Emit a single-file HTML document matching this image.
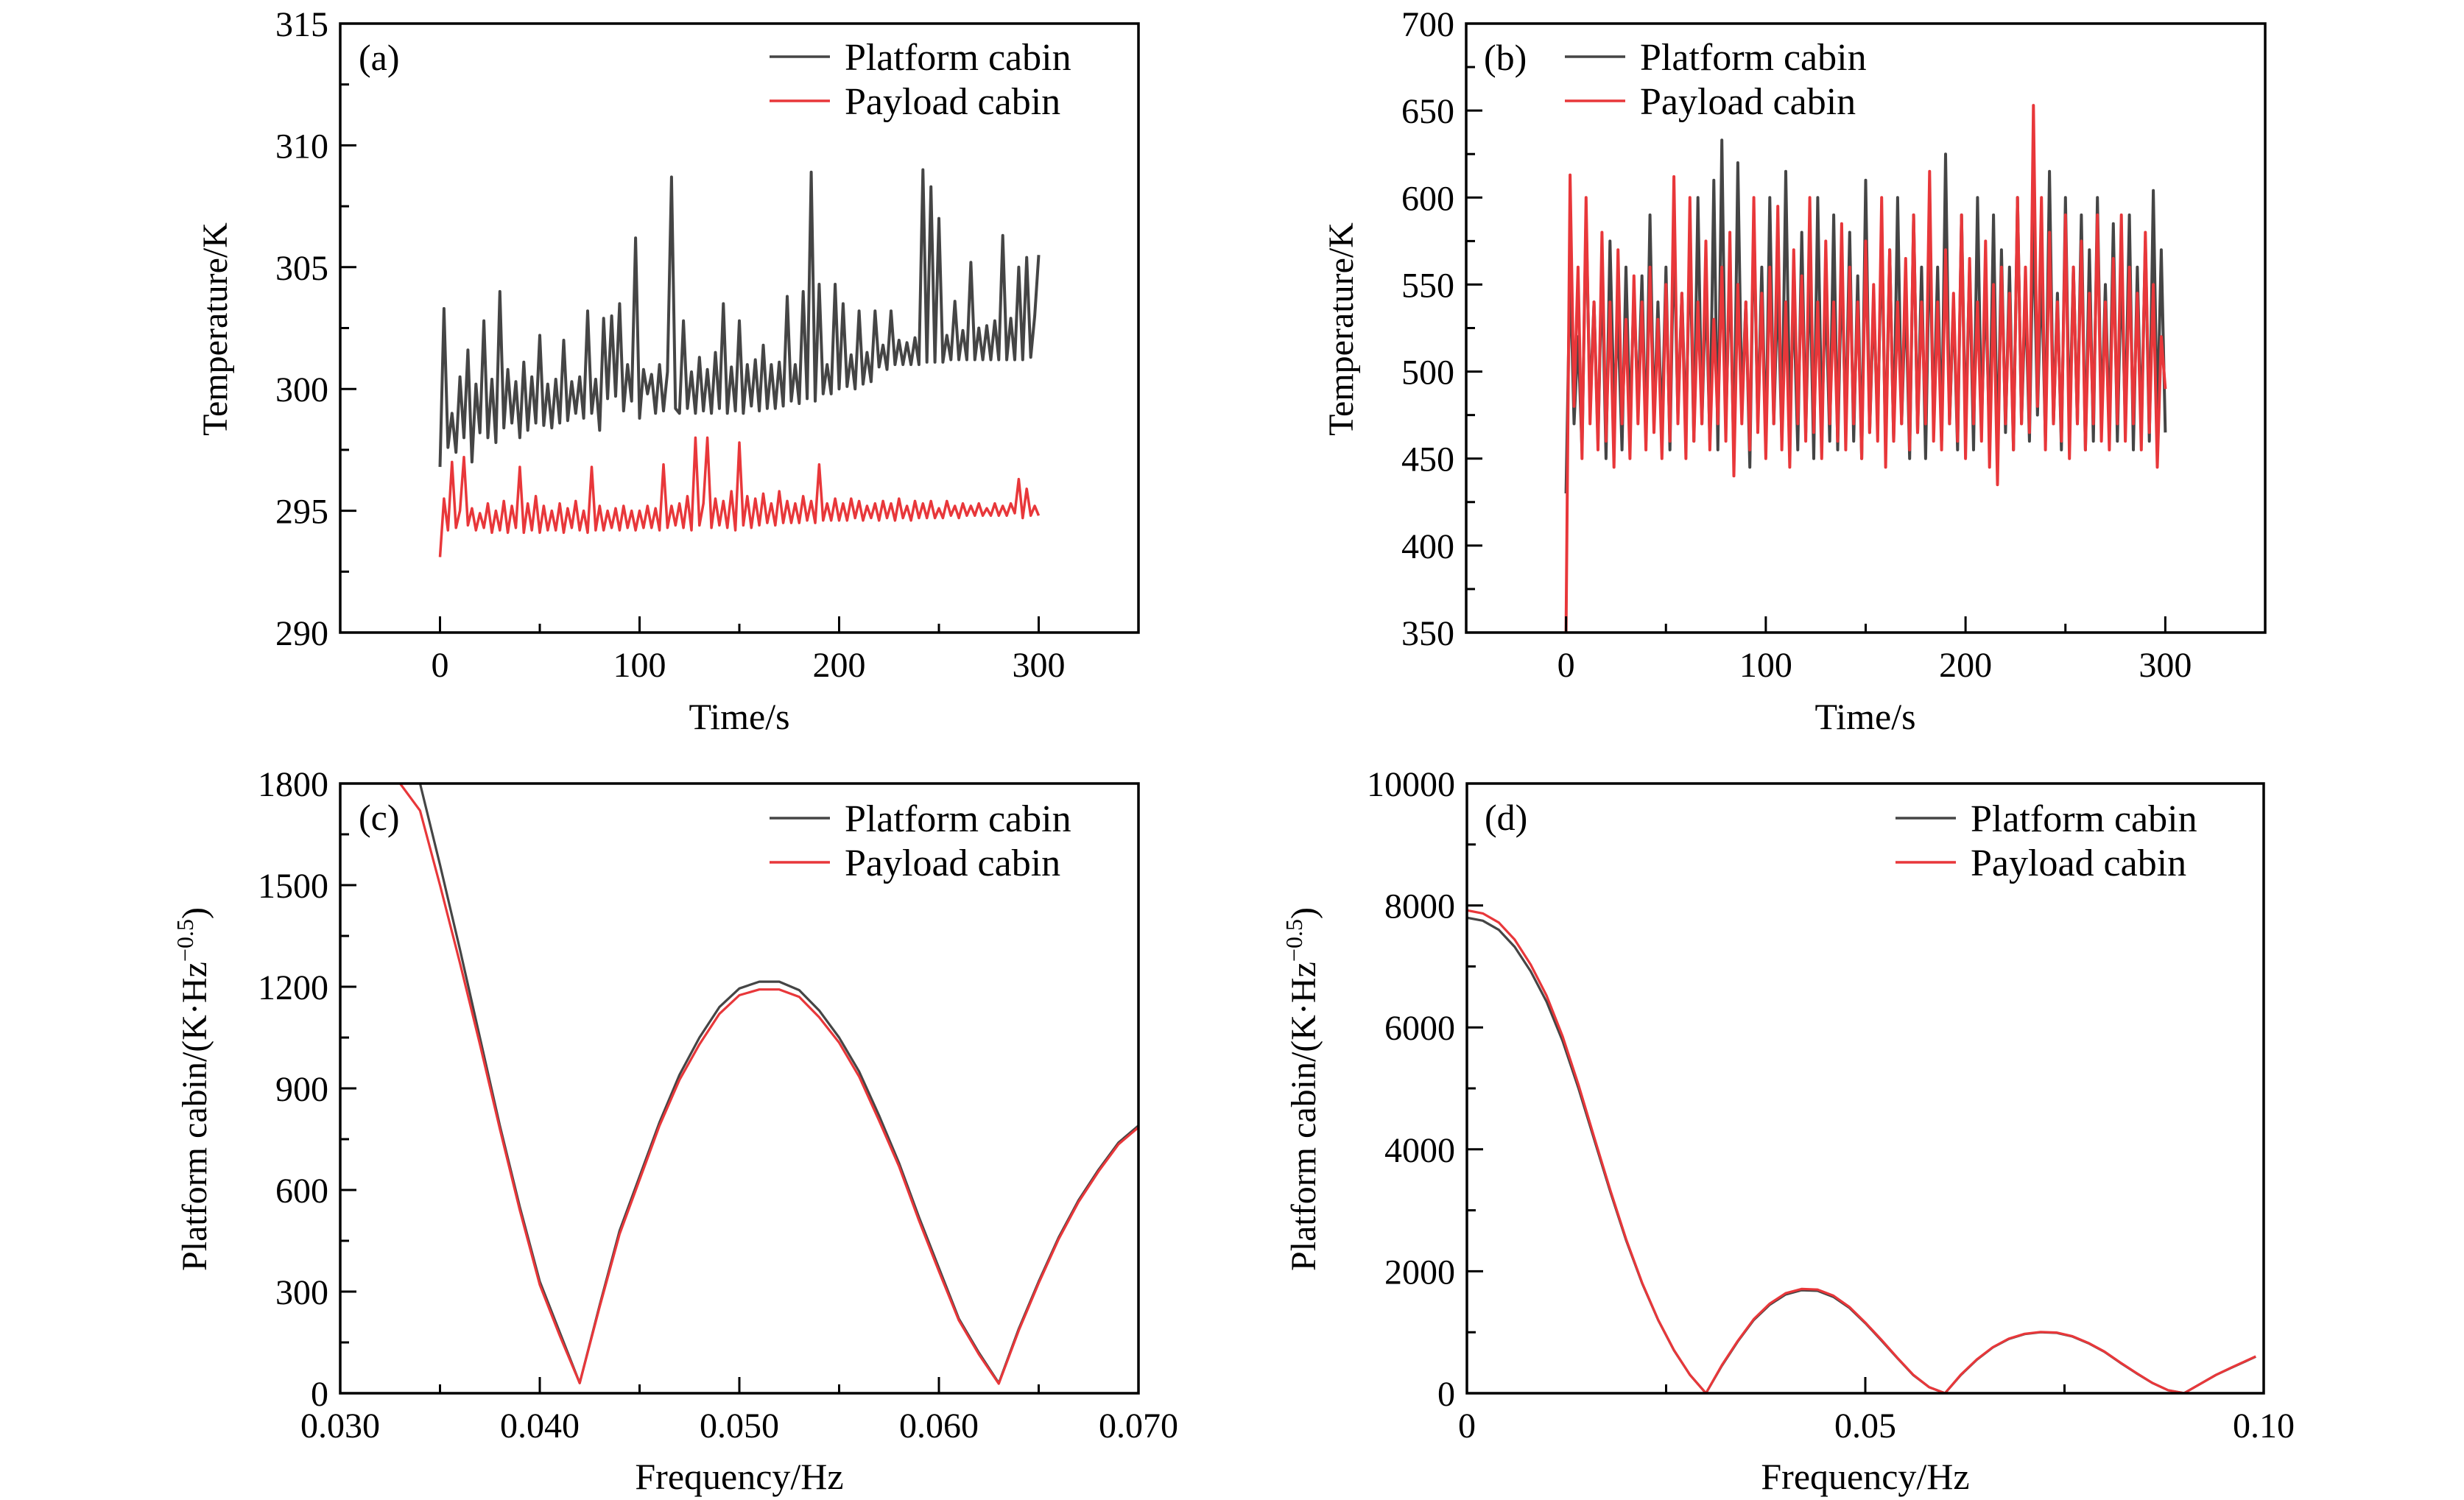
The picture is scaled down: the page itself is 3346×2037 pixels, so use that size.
<!DOCTYPE html>
<html><head><meta charset="utf-8"><style>
html,body{margin:0;padding:0;background:#fff}
svg{display:block}
text{font-family:"Liberation Serif",serif;fill:#000}
</style></head><body>
<svg id="fig" width="3346" height="2037" viewBox="0 0 3346 2037" xmlns="http://www.w3.org/2000/svg"></svg>
<script>
// ---------- DATA ----------
const timeStart = 0, timeStep = 2;
const aPlatform = [
296.8,303.3,297.6,299.0,297.4,300.5,298.0,301.6,297.0,300.2,
298.2,302.8,298.0,300.4,297.8,304.0,298.4,300.8,298.6,300.3,
298.0,301.1,298.3,300.5,298.6,302.2,298.5,300.2,298.4,300.4,
298.6,302.0,298.7,300.3,299.0,300.5,298.8,303.2,299.0,300.4,
298.3,302.9,299.6,303.0,299.7,303.5,299.1,301.0,299.5,306.2,
298.8,300.8,299.8,300.6,299.0,301.0,299.1,300.7,308.7,299.2,
299.0,302.8,299.2,300.7,299.0,301.3,299.1,300.8,299.0,301.5,
299.2,303.5,299.0,300.9,299.1,302.8,299.0,301.0,299.3,301.2,
299.1,301.8,299.2,301.0,299.2,301.1,299.3,303.8,299.5,301.0,
299.4,304.0,299.6,308.9,299.5,304.3,299.8,301.0,299.8,304.3,
300.0,303.5,300.1,301.4,300.0,303.2,300.2,301.5,300.3,303.2,
300.9,301.8,300.8,303.2,301.0,302.0,301.0,301.9,301.0,302.1,
301.0,309.0,301.1,308.3,301.1,307.0,301.1,302.2,301.2,303.6,
301.2,302.4,301.2,305.2,301.2,302.5,301.2,302.6,301.2,302.8,
301.2,306.3,301.2,302.9,301.2,305.0,301.2,305.4,301.3,303.0,
305.5];
const aPayload = [
293.1,295.5,294.2,297.0,294.3,295.0,297.2,294.4,295.1,294.2,
294.9,294.3,295.3,294.1,295.0,294.2,295.4,294.1,295.2,294.3,
296.8,294.1,295.3,294.2,295.6,294.1,295.2,294.2,295.0,294.2,
295.3,294.1,295.1,294.3,295.4,294.2,295.0,294.1,296.8,294.2,
295.2,294.2,295.0,294.3,295.1,294.2,295.2,294.3,295.0,294.2,
295.0,294.3,295.2,294.3,295.1,294.2,296.9,294.3,295.2,294.4,
295.3,294.3,295.6,294.2,298.0,294.4,295.3,298.0,294.3,295.5,
294.4,295.4,294.3,295.8,294.2,297.8,294.4,295.6,294.3,295.5,
294.4,295.7,294.5,295.3,294.4,295.8,294.5,295.4,294.5,295.3,
294.5,295.6,294.6,295.4,294.5,296.9,294.6,295.3,294.6,295.5,
294.6,295.3,294.6,295.5,294.7,295.4,294.6,295.2,294.7,295.3,
294.6,295.4,294.7,295.3,294.6,295.5,294.7,295.2,294.6,295.4,
294.7,295.3,294.7,295.4,294.7,295.1,294.7,295.4,294.8,295.2,
294.7,295.3,294.8,295.2,294.8,295.3,294.8,295.1,294.8,295.3,
294.8,295.2,294.8,295.3,294.9,296.3,294.7,295.9,294.8,295.2,
294.8];
const bPlatform = [
430,560,470,520,455,590,480,540,460,560,
450,575,480,530,455,560,470,545,480,555,
460,590,470,540,465,560,455,580,475,545,
465,575,460,600,470,550,460,610,455,633,
470,560,450,620,480,540,445,590,470,560,
455,600,470,550,460,615,475,540,455,580,
465,560,450,600,470,545,460,590,455,560,
470,580,460,555,450,610,465,540,470,580,
455,570,460,600,470,545,450,590,465,560,
450,580,470,560,460,625,470,540,455,590,
465,560,455,600,470,550,460,590,450,570,
465,560,455,600,470,545,460,590,475,560,
460,615,470,545,455,600,465,560,470,590,
455,570,460,600,470,550,465,585,460,560,
470,590,455,560,465,575,460,604,470,570,
465];
const bPayload = [
350,613,480,560,450,600,470,540,455,580,
460,540,445,570,470,530,450,555,470,540,
455,560,465,530,450,550,460,612,470,545,
450,600,460,540,470,575,455,530,470,560,
460,580,440,550,470,540,455,600,465,545,
450,560,470,595,455,540,445,570,470,555,
460,600,465,540,450,575,470,540,460,585,
455,560,470,540,450,575,465,550,460,600,
445,570,460,540,470,565,455,590,465,540,
470,615,460,540,455,570,470,545,460,590,
450,565,470,540,460,575,445,550,435,560,
470,545,455,600,470,560,465,653,480,600,
455,580,470,540,460,590,450,560,470,575,
455,545,470,590,460,540,455,565,470,590,
460,560,470,545,455,580,465,550,445,520,
490];
const cFreq = [0.033,0.034,0.035,0.036,0.037,0.038,0.039,0.040,0.041,0.042,0.043,0.044,0.045,0.046,0.047,0.048,0.049,0.050,0.051,0.052,0.053,0.054,0.055,0.056,0.057,0.058,0.059,0.060,0.061,0.062,0.063,0.064,0.065,0.066,0.067,0.068,0.069,0.070];
const cPlatform = [1880,1800,1560,1310,1050,790,550,330,180,30,260,480,640,800,940,1050,1140,1195,1215,1215,1190,1130,1050,950,820,680,520,370,220,120,30,190,330,460,570,660,740,790];
const cPayload  = [1800,1720,1500,1270,1030,780,540,320,170,30,255,470,630,790,925,1030,1120,1175,1192,1192,1170,1110,1035,935,805,670,510,360,215,115,28,185,325,455,565,655,735,785];
const dFreq = [0,0.002,0.004,0.006,0.008,0.010,0.012,0.014,0.016,0.018,0.020,0.022,0.024,0.026,0.028,0.030,0.032,0.034,0.036,0.038,0.040,0.042,0.044,0.046,0.048,0.050,0.052,0.054,0.056,0.058,0.060,0.062,0.064,0.066,0.068,0.070,0.072,0.074,0.076,0.078,0.080,0.082,0.084,0.086,0.088,0.090,0.092,0.094,0.096,0.098,0.099];
const dPlatform = [7800,7750,7600,7320,6920,6420,5780,5000,4150,3300,2500,1800,1200,700,300,0,450,850,1200,1450,1620,1690,1680,1580,1400,1150,870,580,300,100,0,300,550,750,890,970,1000,990,930,820,680,500,330,170,50,0,150,300,420,540,600];
const dPayload  = [7920,7870,7720,7440,7030,6520,5860,5060,4190,3330,2520,1810,1205,705,300,0,460,860,1215,1470,1640,1710,1700,1600,1415,1160,880,585,305,100,0,305,555,755,895,975,1005,995,935,825,685,505,335,172,50,0,150,300,425,545,605];

// ---------- DRAW ----------
const NS = "http://www.w3.org/2000/svg";
const svg = document.getElementById("fig");
function mk(tag, attrs, parent){const e=document.createElementNS(NS,tag);for(const k in attrs)e.setAttribute(k,attrs[k]);(parent||svg).appendChild(e);return e;}
const BLK="#454545", RED="#e8373a";

function panel(id, box, xr, yr, xMaj, xMin, yMaj, yMin, xfmt, yfmt){
  const g = mk("g",{});
  
  
  const sx = v => box.x0 + (v - xr[0]) / (xr[1]-xr[0]) * (box.x1-box.x0);
  const sy = v => box.y1 - (v - yr[0]) / (yr[1]-yr[0]) * (box.y1-box.y0);
  const clip = mk("clipPath",{id:"clip-"+id},g);
  mk("rect",{x:box.x0,y:box.y0,width:box.x1-box.x0,height:box.y1-box.y0},clip);
  const plot = mk("g",{"clip-path":"url(#clip-"+id+")"},g);
  const tk = mk("g",{stroke:"#000","stroke-width":3},g);
  for(let v=xr[0]; v<=xr[1]+1e-9; v+=xMin){ const r=Math.round(v/xMin); if(Math.abs(v/xMin-r)>1e-6) continue;
    const isMaj = Math.abs(v/xMaj-Math.round(v/xMaj))<1e-6; const x=sx(v);
    if(x<=box.x0+2||x>=box.x1-2) continue;
    const t=mk("line",{x1:x,x2:x,y1:box.y1,y2:box.y1-(isMaj?22:12)},tk);
    
    
  }
  for(let v=yr[0]; v<=yr[1]+1e-9; v+=yMin){
    const isMaj = Math.abs((v-yr[0])/yMaj-Math.round((v-yr[0])/yMaj))<1e-6; const y=sy(v);
    if(y<=box.y0+2||y>=box.y1-2) continue;
    const t=mk("line",{x1:box.x0,x2:box.x0+(isMaj?22:12),y1:y,y2:y},tk);
    
    
  }
  xfmt.forEach(([v,s])=>{const t=mk("text",{x:sx(v),y:box.y1+60,"font-size":48,"text-anchor":"middle"},g);t.textContent=s;
    
    });
  yfmt.forEach(([v,s])=>{const t=mk("text",{x:box.x0-16,y:sy(v)+17,"font-size":48,"text-anchor":"end"},g);t.textContent=s;
    
    });
  const frame = mk("rect",{x:box.x0,y:box.y0,width:box.x1-box.x0,height:box.y1-box.y0,fill:"none",stroke:"#000","stroke-width":3.5},g);
  
  
  return {g,plot,sx,sy};
}
function series(P, xs, ys, color, w, name){
  const d = ys.map((v,i)=>(i?"L":"M")+P.sx(xs[i]).toFixed(1)+","+P.sy(v).toFixed(1)).join("");
  const p = mk("path",{d, fill:"none", stroke:color, "stroke-width":w, "stroke-linejoin":"round"}, P.plot);
  
  
}
function legend(lx, tx, y1, y2, tag, tagx, tagy){
  [[y1,BLK,"Platform cabin"],[y2,RED,"Payload cabin"]].forEach(([y,c,s],i)=>{
    const l=mk("line",{x1:lx,x2:lx+82,y1:y,y2:y,stroke:c,"stroke-width":3.5});
    
    
    const t=mk("text",{x:tx,y:y+18,"font-size":52});t.textContent=s;
    
    
  });
  const t=mk("text",{x:tagx,y:tagy,"font-size":50});t.textContent=tag;
  
  
}
function ytitle(x, cy, content){
  const t=mk("text",{x:x,y:cy,"font-size":48,"text-anchor":"middle",transform:`rotate(-90 ${x} ${cy})`});
  t.innerHTML=content;
  
  
}
function xtitle(cx, y, s){
  const t=mk("text",{x:cx,y:y,"font-size":50,"text-anchor":"middle"});t.textContent=s;
  
  
}
const tA = aPlatform.map((_,i)=>timeStart+i*timeStep);
const tB = bPlatform.map((_,i)=>timeStart+i*timeStep);

// (a)
const A = panel("a",{x0:462,x1:1546,y0:32,y1:859},[-50,350],[290,315],100,50,5,2.5,
  [[0,"0"],[100,"100"],[200,"200"],[300,"300"]],[[290,"290"],[295,"295"],[300,"300"],[305,"305"],[310,"310"],[315,"315"]]);
series(A,tA,aPlatform,BLK,4,"platform-series-a");
series(A,tA,aPayload,RED,3.5,"payload-series-a");
legend(1045,1147,77,137,"(a)",487,95);
ytitle(308,447,"Temperature/K");
xtitle(1004,990,"Time/s");

// (b)
const B = panel("b",{x0:1991,x1:3076,y0:32,y1:859},[-50,350],[350,700],100,50,50,25,
  [[0,"0"],[100,"100"],[200,"200"],[300,"300"]],[[350,"350"],[400,"400"],[450,"450"],[500,"500"],[550,"550"],[600,"600"],[650,"650"],[700,"700"]]);
series(B,tB,bPlatform,BLK,4,"platform-series-b");
series(B,tB,bPayload,RED,4,"payload-series-b");
legend(2125,2227,77,137,"(b)",2015,95);
ytitle(1837,447,"Temperature/K");
xtitle(2533,990,"Time/s");

// (c)
const C = panel("c",{x0:462,x1:1546,y0:1064,y1:1892},[0.03,0.07],[0,1800],0.01,0.005,300,150,
  [[0.03,"0.030"],[0.04,"0.040"],[0.05,"0.050"],[0.06,"0.060"],[0.07,"0.070"]],
  [[0,"0"],[300,"300"],[600,"600"],[900,"900"],[1200,"1200"],[1500,"1500"],[1800,"1800"]]);
series(C,cFreq,cPlatform,BLK,3.2,"platform-spectrum-c");
series(C,cFreq,cPayload,RED,3.2,"payload-spectrum-c");
legend(1045,1147,1111,1171,"(c)",487,1127);
ytitle(280,1479,'Platform cabin/(K·Hz<tspan font-size="32" dy="-18">−0.5</tspan><tspan dy="18">)</tspan>');
xtitle(1004,2022,"Frequency/Hz");

// (d)
const D = panel("d",{x0:1992,x1:3074,y0:1064,y1:1892},[0,0.1],[0,10000],0.05,0.025,2000,1000,
  [[0,"0"],[0.05,"0.05"],[0.1,"0.10"]],
  [[0,"0"],[2000,"2000"],[4000,"4000"],[6000,"6000"],[8000,"8000"],[10000,"10000"]]);
series(D,dFreq,dPlatform,BLK,3.2,"platform-spectrum-d");
series(D,dFreq,dPayload,RED,3.2,"payload-spectrum-d");
legend(2574,2676,1111,1171,"(d)",2016,1127);
ytitle(1786,1479,'Platform cabin/(K·Hz<tspan font-size="32" dy="-18">−0.5</tspan><tspan dy="18">)</tspan>');
xtitle(2533,2022,"Frequency/Hz");
</script>
</body></html>
